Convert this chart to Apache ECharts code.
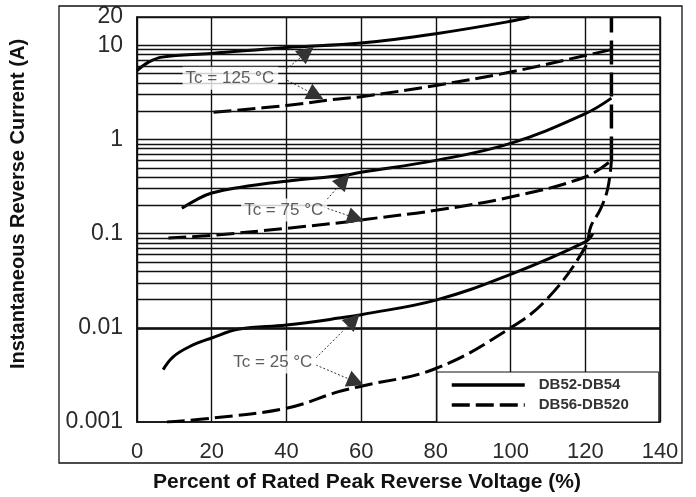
<!DOCTYPE html>
<html><head><meta charset="utf-8">
<script src="https://cdn.jsdelivr.net/npm/echarts@6/dist/echarts.min.js"></script>
<style>html,body{margin:0;padding:0;background:#fff}#c{width:696px;height:497px}</style>
</head><body><div id="c"></div>
<script>
// ---- data (x: % of rated peak reverse voltage, y: instantaneous reverse current A)
const solid125 = [[0,5.4],[3,6.6],[6.7,7.5],[20,8.2],[40,9.5],[60,10.6],[80,13.3],[100,18],[105,20]];
const dashed125 = [[20.5,1.95],[40,2.3],[54,2.7],[60,2.85],[80,3.75],[100,5.2],[120,7.8],[127,9.0]];
const solid75 = [[12,0.186],[16,0.23],[20,0.27],[27.4,0.31],[40,0.36],[56,0.42],[60,0.45],[80,0.6],[100,0.91],[120,1.88],[127,2.75]];
const dashed75 = [[8.4,0.09],[20,0.096],[40,0.114],[56,0.133],[60,0.14],[80,0.177],[100,0.245],[120,0.4],[127,0.6]];
const solid25 = [[7,0.0036],[9.6,0.0049],[14,0.0063],[20,0.0078],[27.4,0.0097],[40,0.0107],[56,0.013],[60,0.0138],[80,0.0197],[100,0.037],[120,0.082],[122,0.1]];
const dashed25 = [[8,0.001],[20,0.0011],[40,0.0014],[54,0.0021],[60,0.0024],[80,0.0037],[100,0.01],[110,0.0207],[120,0.072],[121.5,0.12],[124,0.18],[126,0.3],[127,0.6]];
const breakdown = [[127,0.6],[127,20]];

const seriesNames = ['DB52-DB54','DB56-DB520'];
const hGrid = [0.001,0.002,0.003,0.004,0.005,0.006,0.007,0.008,0.009,
               0.01,0.02,0.03,0.04,0.05,0.06,0.07,0.08,0.09,
               0.1,0.2,0.3,0.4,0.5,0.6,0.7,0.8,0.9,
               1,2,3,4,5,6,7,8,9,10,20];

const annotText = ['Tc = 125 °C','Tc = 75 °C','Tc = 25 °C'];
const annotAt = [[25,4.47],[39.4,0.178],[36.5,0.00433]];
const arrows = [
  [[39.9,5.56],[45.5,8.43]], [[40.2,4.25],[47.9,2.95]],
  [[49.5,0.201],[55.4,0.37]], [[50.0,0.191],[58.6,0.146]],
  [[47.9,0.00478],[58.0,0.0121]], [[47.9,0.00403],[58.6,0.00266]]
];

const FONT = "'Liberation Sans', Arial, Helvetica, sans-serif";
const chart = echarts.init(document.getElementById('c'), null, {renderer:'canvas'});

function curve(name, data, dashed){
  return {
    type:'line', name:name, data:data, showSymbol:false, symbol:'none',
    smooth:0.4, z:3, silent:true,
    itemStyle:{color:'#000'},
    lineStyle:{color:'#000', width:3, type: dashed ? [18,6] : 'solid', cap:'butt'}
  };
}

const option = {
  backgroundColor:'#fff',
  animation:false,
  grid:{left:137, top:17, right:36, bottom:75, show:true, borderColor:'#111', borderWidth:1.5, backgroundColor:'#fff'},
  xAxis:{
    type:'value', min:0, max:140, interval:20,
    axisLine:{show:true, lineStyle:{color:'#111', width:1.5}},
    axisTick:{show:false},
    splitLine:{show:true, lineStyle:{color:'#111', width:1.4}},
    axisLabel:{fontSize:22, color:'#2a2a2a', margin:19, fontFamily:FONT}
  },
  yAxis:{
    type:'log', logBase:10, min:0.001, max:20,
    axisLine:{show:true, lineStyle:{color:'#111', width:1.5}},
    axisTick:{show:false},
    splitLine:{show:false},
    axisLabel:{fontSize:23, color:'#2a2a2a', margin:14, fontFamily:FONT}
  },
  legend:{
    left:437, top:372, orient:'vertical',
    data:seriesNames,
    itemWidth:73, itemHeight:18, itemGap:2,
    padding:[4,30,8,13],
    backgroundColor:'#fff', borderColor:'#111', borderWidth:1,
    itemStyle:{opacity:0},
    lineStyle:{color:'#000', width:3.5},
    textStyle:{fontSize:15, fontWeight:'bold', color:'#333', fontFamily:FONT, padding:[0,0,0,9], lineHeight:18},
    selectedMode:false
  },
  graphic:[
    {type:'rect', shape:{x:59, y:6, width:623, height:457}, style:{fill:'none', stroke:'#111', lineWidth:1.3}, z:10, silent:true},
    {type:'text', x:18, y:204, rotation:Math.PI/2, style:{text:'Instantaneous Reverse Current (A)', fontSize:20, fontWeight:'bold', fill:'#111', fontFamily:FONT, textAlign:'center', textVerticalAlign:'middle'}},
    {type:'text', x:367, y:482, style:{text:'Percent of Rated Peak Reverse Voltage (%)', fontSize:21, fontWeight:'bold', fill:'#111', fontFamily:FONT, textAlign:'center', textVerticalAlign:'middle'}}
  ],
  series:[
    {
      type:'line', data:[], silent:true, z:1,
      markLine:{silent:true, symbol:['none','none'], label:{show:false}, animation:false,
        lineStyle:{color:'#111', width:1.4, type:'solid'},
        data: hGrid.map(v => ({yAxis:v}))}
    },
    curve(seriesNames[0], solid125, false),
    curve(seriesNames[1], dashed125, true),
    curve(seriesNames[0], solid75, false),
    curve(seriesNames[1], dashed75, true),
    curve(seriesNames[0], solid25, false),
    curve(seriesNames[1], dashed25, true),
    {type:'line', name:seriesNames[1], data:breakdown, showSymbol:false, symbol:'none', z:3, silent:true,
     itemStyle:{color:'#000'},
     lineStyle:{color:'#000', width:3.5, type:[24,8]}},
    {
      type:'scatter', z:5, silent:true, symbolSize:0,
      data: annotText.map((t,i) => ({name:t, value:annotAt[i]})),
      label:{show:true, position:'inside', formatter:'{b}', fontSize:17, color:'#333', fontFamily:FONT,
        backgroundColor:'#fff', padding:[3,4,3,3]},
      markLine:{silent:true, symbol:['none','triangle'], symbolSize:17, label:{show:false}, animation:false,
        itemStyle:{color:'#111'},
        lineStyle:{color:'#333', width:1, type:[2,2]},
        data: arrows.map(a => [{coord:a[0]},{coord:a[1]}])}
    }
  ]
};
chart.setOption(option);
</script></body></html>
